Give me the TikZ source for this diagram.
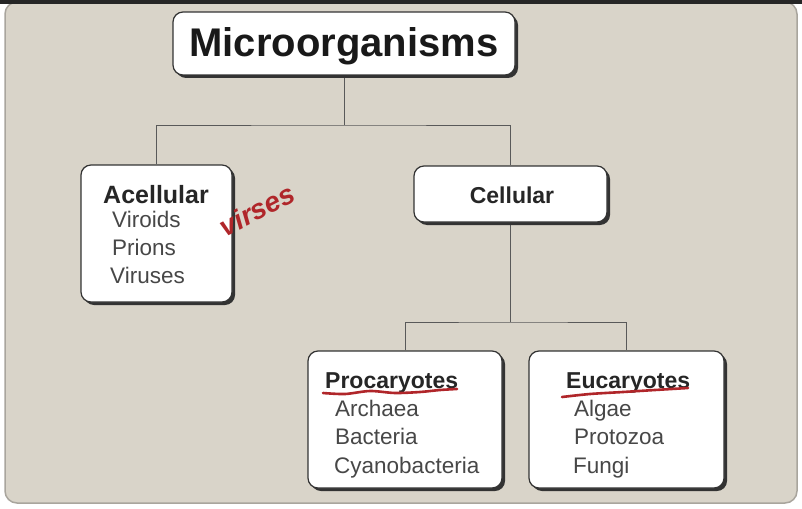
\documentclass[tikz,border=0pt]{standalone}
\usepackage{fontspec}
\setmainfont{Liberation Sans}
\usetikzlibrary{shadows,backgrounds}

\definecolor{panel}{HTML}{D9D4C9}
\definecolor{panelline}{HTML}{A9A59D}
\definecolor{headtext}{HTML}{262626}
\definecolor{itemtext}{HTML}{474747}
\definecolor{inkred}{HTML}{B0262A}

\tikzset{
  box/.style={draw=black!80, line width=1.2pt, fill=white, rounded corners=10pt, inner sep=0pt,
    drop shadow={shadow xshift=3pt, shadow yshift=-3pt, fill=black!80, opacity=1}},
  head/.style={anchor=base west, inner sep=0pt, text=headtext, font=\fontsize{23}{23}\selectfont\bfseries},
  item/.style={anchor=base west, inner sep=0pt, text=itemtext, font=\fontsize{22.5}{22.5}\selectfont},
  link/.style={draw=black!65, line width=1pt},
  redline/.style={draw=inkred, line width=2.6pt, line cap=round}
}

\begin{document}
\begin{tikzpicture}[x=1pt,y=-1pt]
  \useasboundingbox (0,0) rectangle (802,508);

  % boxes
  \node[box, minimum width=342, minimum height=63] (micro) at (344,43.5) {};
  \node[box, minimum width=151, minimum height=137] (acell) at (156.5,233.5) {};
  \node[box, minimum width=193, minimum height=56] (cell) at (510.5,194) {};
  \node[box, minimum width=194, minimum height=137] (proc) at (405,419.5) {};
  \node[box, minimum width=195, minimum height=137] (euca) at (626.5,419.5) {};

  % texts
  \node[anchor=base, inner sep=0pt, text=black!90, font=\fontsize{40}{40}\selectfont\bfseries] (microtxt) at (344,57) {Microorganisms};
  \node[head, font=\fontsize{25}{25}\selectfont\bfseries] (acelltxt) at (103,203) {Acellular};
  \node[item] (viroids) at (112,227) {Viroids};
  \node[item] (prions) at (112,255) {Prions};
  \node[item] (viruses) at (110,283) {Viruses};
  \node[head, anchor=base] (celltxt) at (512,203) {Cellular};
  \node[head] (proctxt) at (325,388) {Procaryotes};
  \node[item] (archaea) at (335,416) {Archaea};
  \node[item] (bacteria) at (335,444) {Bacteria};
  \node[item] (cyano) at (334,473) {Cyanobacteria};
  \node[head] (eucatxt) at (566,388) {Eucaryotes};
  \node[item] (algae) at (574,416) {Algae};
  \node[item] (protozoa) at (574,444) {Protozoa};
  \node[item] (fungi) at (573,473) {Fungi};

  % handwritten note
  \node[rotate=27, inner sep=0pt, text=inkred, font=\fontsize{28}{28}\selectfont\bfseries\itshape] (note) at (257,210) {virses};
  \draw[redline] plot[smooth] coordinates {(323,393) (345,394) (370,391) (395,393) (420,392) (440,390) (457,389)};
  \draw[redline] plot[smooth] coordinates {(562,397) (590,394) (623,392) (655,390) (688,388)};

  \coordinate (split1) at (344,125);
  \coordinate (split2) at (510.5,322);

  \begin{pgfonlayer}{background}
    \fill[white] (0,0) rectangle (802,508);
    \draw[fill=panel, draw=panelline, line width=1.5pt, rounded corners=12pt] (5,2) rectangle (797,503);
    \fill[black!85] (0,0) rectangle (802,4);
    \draw[link] (micro.south) -- (split1);
    \draw[link] (acell.north) |- (split1) -| (cell.north);
    \draw[link] (cell.south) -- (split2);
    \draw[link] (proc.north) |- (split2) -| (euca.north);
  \end{pgfonlayer}
\end{tikzpicture}
\end{document}
